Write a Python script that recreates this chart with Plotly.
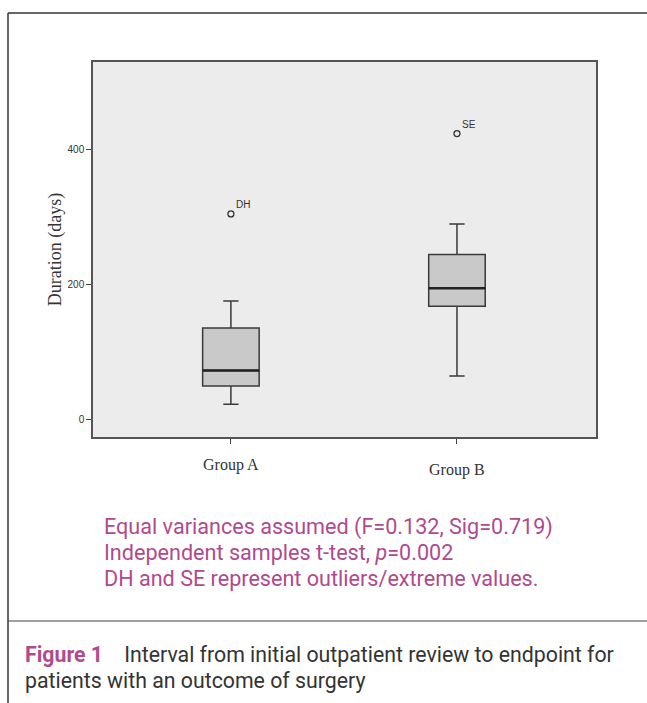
import plotly.graph_objects as go

# ---- data ----
groups = ["Group A", "Group B"]
q1 = [49, 167]
median = [72, 194]
q3 = [135, 244]
lower_whisker = [22, 64]
upper_whisker = [175, 289]
outlier_values = [304, 423]
outlier_labels = ["DH", "SE"]
y_ticks = [0, 200, 400]
notes = [
    "Equal variances assumed (F=0.132, Sig=0.719)",
    "Independent samples t-test, <i>p</i>=0.002",
    "DH and SE represent outliers/extreme values.",
]
caption_bold = "Figure 1"
caption_text = ["Interval from initial outpatient review to endpoint for",
                "patients with an outcome of surgery"]

pos = list(range(len(groups)))
box_w = 0.25

L, T, PW, PH = 93, 62, 503, 375  # plot area in px

def px(x):
    return (x - L) / PW

def py(y):
    return (T + PH - y) / PH

fig = go.Figure()
fig.add_trace(go.Box(
    x=pos, q1=q1, median=median, q3=q3,
    lowerfence=lower_whisker, upperfence=upper_whisker,
    width=box_w, whiskerwidth=0.27,
    fillcolor="#c9c9c9", line=dict(color="#3a3a3a", width=1.5),
    boxpoints=False, showlegend=False, hoverinfo="skip",
))
# thicker median lines
for i, m in zip(pos, median):
    fig.add_trace(go.Scatter(
        x=[i - box_w / 2, i + box_w / 2], y=[m, m], mode="lines",
        line=dict(color="#222222", width=2.5), showlegend=False, hoverinfo="skip"))
# outliers
fig.add_trace(go.Scatter(
    x=pos, y=outlier_values, mode="markers",
    marker=dict(symbol="circle-open", size=6, color="#333333", line=dict(width=1.3)),
    showlegend=False, hoverinfo="skip"))
for i, v, lab in zip(pos, outlier_values, outlier_labels):
    fig.add_annotation(x=i, y=v, text=lab, showarrow=False, xanchor="left", yanchor="bottom",
                       xshift=3, yshift=2, font=dict(family="Arial", size=10, color="#333333"))

# group labels (slightly staggered as in the original)
label_y = [465, 470]
for i, g, yy in zip(pos, groups, label_y):
    fig.add_annotation(x=i, xref="x", yref="paper", y=py(yy), text=g, showarrow=False,
                       xanchor="center", yanchor="middle",
                       font=dict(family="Liberation Serif, DejaVu Serif, serif", size=16, color="#333"))

fig.update_layout(
    width=647, height=703,
    paper_bgcolor="white", plot_bgcolor="#ececec",
    margin=dict(l=L, r=647 - L - PW, t=T, b=703 - T - PH),
    font=dict(family="Arial", color="#333333"),
)
fig.update_xaxes(
    range=[-0.61, 1.615], tickvals=pos, ticktext=["", ""],
    ticks="outside", ticklen=5, tickcolor="#444", showgrid=False, zeroline=False,
    showline=True, linecolor="#555", linewidth=1.5, mirror=True,
)
fig.update_yaxes(
    range=[-26.5, 529], tickvals=y_ticks, ticks="outside", ticklen=5, tickcolor="#444",
    showgrid=False, zeroline=False, showline=True, linecolor="#555", linewidth=1.5, mirror=True,
    tickfont=dict(family="Arial", size=10, color="#333"),
    title=dict(text="Duration (days)", font=dict(family="Liberation Serif, DejaVu Serif, serif", size=18, color="#333"),
               standoff=1),
)

# frame lines
fig.add_shape(type="line", xref="paper", yref="paper", x0=px(8), x1=px(660), y0=py(13), y1=py(13),
              line=dict(color="#333", width=1.5))
fig.add_shape(type="line", xref="paper", yref="paper", x0=px(8), x1=px(8), y0=py(710), y1=py(13),
              line=dict(color="#333", width=1.5))
fig.add_shape(type="line", xref="paper", yref="paper", x0=px(8), x1=px(660), y0=py(621), y1=py(621),
              line=dict(color="#444", width=1.2))

pink = "#b04a8e"
cap_font = "Roboto, Arial"
for k, line in enumerate(notes):
    fig.add_annotation(xref="paper", yref="paper", x=px(102), y=py(527 + k * 25.5),
                       text=line, showarrow=False, xanchor="left", yanchor="middle",
                       font=dict(family=cap_font, size=21.6, color=pink))

fig.add_annotation(xref="paper", yref="paper", x=px(23), y=py(654),
                   text=f"<b><span style='color:{pink}'>{caption_bold}</span></b>    {caption_text[0]}",
                   showarrow=False, xanchor="left", yanchor="middle",
                   font=dict(family=cap_font, size=21.3, color="#333"))
fig.add_annotation(xref="paper", yref="paper", x=px(23), y=py(681),
                   text=caption_text[1], showarrow=False, xanchor="left", yanchor="middle",
                   font=dict(family=cap_font, size=21.3, color="#333"))

fig.write_html("out.html", config={"displayModeBar": False},
               post_script="document.body.style.margin='0';document.body.style.overflow='hidden';")
